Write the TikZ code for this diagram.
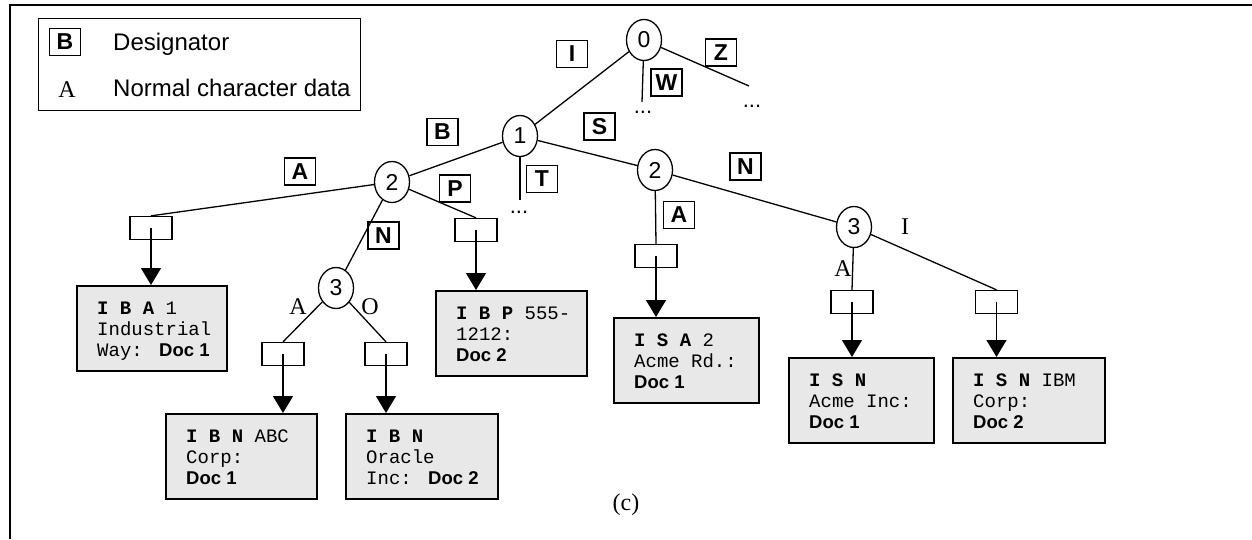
\documentclass[tikz,border=0pt]{standalone}
\usepackage{fontspec}
\setmainfont{Liberation Serif}
\setsansfont{Liberation Sans}
\setmonofont{Liberation Mono}
\usetikzlibrary{shapes.geometric,arrows.meta}
\definecolor{leafgray}{gray}{0.91}
\newcommand{\docl}[1]{{\sffamily\bfseries\fontsize{18.5}{21}\selectfont #1}}
\newcommand{\ms}{\hspace*{11.4pt}}
\tikzset{
  tn/.style={ellipse, draw, line width=1.3pt, minimum width=35pt, minimum height=41pt, inner sep=0pt, font=\sffamily\fontsize{23}{24}\selectfont},
  des/.style={draw, line width=1.3pt, minimum width=31pt, minimum height=27pt, inner sep=0pt, font=\sffamily\bfseries\fontsize{23}{24}\selectfont},
  sbox/.style={draw, line width=1.3pt, minimum width=42pt, minimum height=23pt, inner sep=0pt},
  leafbox/.style={draw, line width=1.7pt, fill=leafgray, minimum height=85pt, inner sep=0pt, anchor=north west},
  leaftext/.style={inner sep=0pt, align=left, anchor=base west, font=\ttfamily\fontsize{19}{21}\selectfont},
  ln/.style={line width=1.3pt},
  arr/.style={line width=1.3pt, -{Triangle[width=20pt,length=17pt]}},
  tl/.style={font=\rmfamily\fontsize{24}{26}\selectfont, inner sep=0pt},
  dotsn/.style={font=\sffamily\fontsize{22}{24}\selectfont, inner sep=0pt, anchor=base},
  legtext/.style={font=\sffamily\fontsize{24}{26}\selectfont, anchor=base west, inner sep=0pt}
}
\newcommand{\leaf}[5]{%
  \node[leafbox, minimum width=#3] (#1) at (#2) {};
  \node[leaftext] (#1t) at ([xshift=21pt,yshift=-71pt]#1.north west) {#4\\#5};
}
\begin{document}
\begin{tikzpicture}[x=1pt,y=-1pt]
\useasboundingbox (0,0) rectangle (1252,539);
% outer frame
\draw[line width=1.5pt] (10,539) -- (10,5) -- (1252,5);
% legend
\node[draw, line width=1.3pt, minimum width=322pt, minimum height=92pt, anchor=north west, inner sep=0pt] (legend) at (38,18) {};
\node[des] (legB) at (65,42) {B};
\node[legtext] (legD) at (113,50.5) {Designator};
\node[font=\rmfamily\fontsize{24}{26}\selectfont, anchor=base, inner sep=0pt] (legA) at (67,97) {A};
\node[legtext] (legN) at (113,96.5) {Normal character data};
% tree nodes
\node[tn] (n0) at (644,40) {0};
\node[tn] (n1) at (520,136) {1};
\node[tn] (n2L) at (392,182) {2};
\node[tn] (n3L) at (336,288) {3};
\node[tn] (n2R) at (655,170) {2};
\node[tn] (n3R) at (854,227) {3};
% dots
\node[dotsn] (dW) at (643,113) {...};
\node[dotsn] (dZ) at (752,107) {...};
\node[dotsn] (dT) at (519,213) {...};
\coordinate (eW) at (642,102);
\coordinate (eZ) at (749,86);
\coordinate (eT) at (520,200);
% small boxes
\node[sbox] (sbA) at (151,228) {};
\node[sbox] (sbABC) at (283,354) {};
\node[sbox] (sbO) at (386,354) {};
\node[sbox] (sbP) at (476,230) {};
\node[sbox] (sbA2) at (656,256) {};
\node[sbox] (sb3A) at (852,302) {};
\node[sbox] (sb3I) at (996.5,302) {};
% leaves
\leaf{lIBA}{76,285}{150pt}{\textbf{I\ms B\ms A}\ms 1}{Industrial\\Way:\ms\hspace*{5pt}\docl{Doc 1}}
\leaf{lABC}{165,413}{151pt}{\textbf{I\ms B\ms N}\ms ABC}{Corp:\\\docl{Doc 1}}
\leaf{lOra}{345,413}{152pt}{\textbf{I\ms B\ms N}}{Oracle\\Inc:\ms\hspace*{5pt}\docl{Doc 2}}
\leaf{lIBP}{435,290}{151pt}{\textbf{I\ms B\ms P}\ms 555-}{1212:\\\docl{Doc 2}}
\leaf{lISA}{613,317}{145pt}{\textbf{I\ms S\ms A}\ms 2}{Acme\ms Rd.:\\\docl{Doc 1}}
\leaf{lAcme}{788,357}{145pt}{\textbf{I\ms S\ms N}}{Acme\ms Inc:\\\docl{Doc 1}}
\leaf{lIBM}{952,357}{152pt}{\textbf{I\ms S\ms N}\ms IBM}{Corp:\\\docl{Doc 2}}
% edges
\draw[ln] (n0) -- (n1);
\draw[ln] (n0) -- (eW);
\draw[ln] (n0) -- (eZ);
\draw[ln] (n1) -- (n2L);
\draw[ln] (n1) -- (n2R);
\draw[ln] (n1) -- (eT);
\draw[ln] (n2L) -- (sbA.north);
\draw[ln] (n2L) -- (n3L);
\draw[ln] (n2L) -- (sbP.north);
\draw[ln] (n3L) -- (sbABC.north);
\draw[ln] (n3L) -- (sbO.north);
\draw[ln] (n2R) -- (sbA2.north);
\draw[ln] (n2R) -- (n3R);
\draw[ln] (n3R) -- (sb3A.north);
\draw[ln] (n3R) -- (sb3I.north);
% arrows
\draw[arr] (sbA.center) -- (sbA.center |- lIBA.north);
\draw[arr] (sbABC.center) -- (sbABC.center |- lABC.north);
\draw[arr] (sbO.center) -- (sbO.center |- lOra.north);
\draw[arr] (sbP.center) -- (sbP.center |- lIBP.north);
\draw[arr] (sbA2.center) -- (sbA2.center |- lISA.north);
\draw[arr] (sb3A.center) -- (sb3A.center |- lAcme.north);
\draw[arr] (sb3I.center) -- (sb3I.center |- lIBM.north);
% designator labels
\node[des] (dI) at (572,54) {I};
\node[des] (dW2) at (666.5,82.5) {W};
\node[des] (dZ2) at (721,52.5) {Z};
\node[des] (dB) at (442.5,132) {B};
\node[des] (dS) at (599.5,126.5) {S};
\node[des] (dT2) at (542,179) {T};
\node[des] (dA) at (300,171.5) {A};
\node[des] (dN) at (383.5,235.5) {N};
\node[des] (dP) at (455,188.5) {P};
\node[des] (dA2) at (679,215) {A};
\node[des] (dN2) at (745.5,166.5) {N};
% plain labels
\node[tl] (tA) at (298,307) {A};
\node[tl] (tO) at (370,307) {O};
\node[tl] (tA3) at (843,269) {A};
\node[tl] (tI3) at (905,227) {I};
\node[tl] (cap) at (626,505) {(c)};
\end{tikzpicture}
\end{document}
